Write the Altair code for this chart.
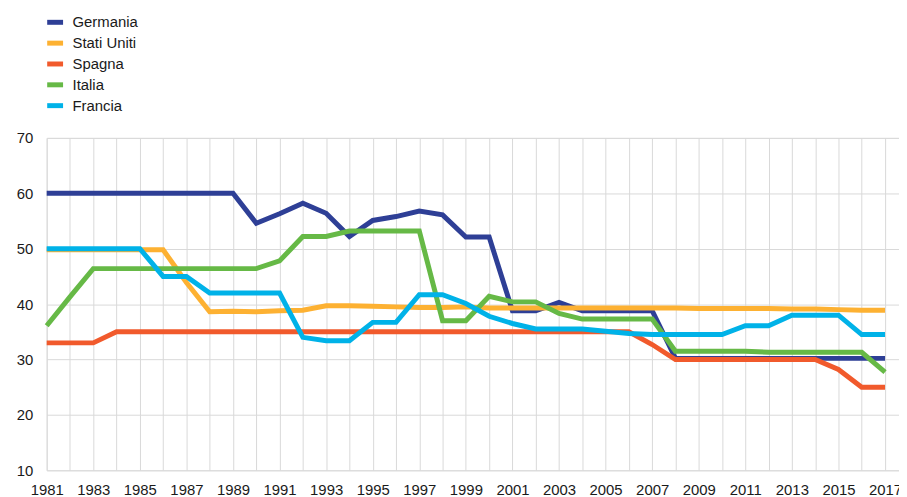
import altair as alt
import pandas as pd

years = list(range(1981, 2018))

germania = [60, 60, 60, 60, 60, 60, 60, 60, 60, 54.6, 56.3, 58.2, 56.4, 52.2, 55.1, 55.8, 56.8, 56.1,
            52.1, 52.1, 38.8, 38.8, 40.3, 38.8, 38.8, 38.8, 38.8, 30.2, 30.2, 30.2, 30.2, 30.2, 30.2,
            30.2, 30.2, 30.2, 30.2]
stati_uniti = [49.8, 49.8, 49.8, 49.8, 49.8, 49.8, 43.9, 38.6, 38.7, 38.6, 38.8, 38.9, 39.7, 39.7,
               39.6, 39.5, 39.4, 39.4, 39.5, 39.3, 39.3, 39.3, 39.3, 39.3, 39.3, 39.3, 39.3, 39.3,
               39.2, 39.2, 39.2, 39.2, 39.1, 39.1, 39.0, 38.9, 38.9]
spagna = [33, 33, 33, 35, 35, 35, 35, 35, 35, 35, 35, 35, 35, 35, 35, 35, 35, 35, 35, 35, 35, 35,
          35, 35, 35, 35, 32.7, 30, 30, 30, 30, 30, 30, 30, 28.2, 25, 25]
italia = [36.1, 41.3, 46.4, 46.4, 46.4, 46.4, 46.4, 46.4, 46.4, 46.4, 47.8, 52.2, 52.2, 53.2, 53.2,
          53.2, 53.2, 37.0, 37.0, 41.4, 40.4, 40.4, 38.3, 37.3, 37.3, 37.3, 37.3, 31.5, 31.5, 31.5,
          31.5, 31.3, 31.3, 31.3, 31.3, 31.3, 27.7]
francia = [50, 50, 50, 50, 50, 45, 45, 42, 42, 42, 42, 34, 33.4, 33.4, 36.7, 36.7, 41.7, 41.7, 40.1,
           37.8, 36.5, 35.5, 35.5, 35.5, 35.1, 34.7, 34.5, 34.5, 34.5, 34.5, 36.1, 36.1, 38.0, 38.0,
           38.0, 34.5, 34.5]

countries = ["Germania", "Stati Uniti", "Spagna", "Italia", "Francia"]
colors = ["#2E3F96", "#FDB132", "#F15A2C", "#66B946", "#00B2E8"]
series = [germania, stati_uniti, spagna, italia, francia]

rows = []
for i, (name, vals) in enumerate(zip(countries, series)):
    for y, v in zip(years, vals):
        rows.append({"anno": y, "valore": v, "paese": name, "ord": i})
df = pd.DataFrame(rows)

font = "Liberation Sans"

chart = alt.Chart(df).mark_line(strokeWidth=5, strokeCap="butt").encode(
    x=alt.X("anno:Q",
            scale=alt.Scale(domain=[1981, 2017.6], nice=False, zero=False),
            axis=alt.Axis(values=years, labelExpr="datum.value % 2 == 1 ? datum.label : ''",
                          format="d", title=None, grid=True, gridColor="#D9D9D9", domain=False,
                          ticks=False, labelPadding=12, labelFontSize=15, labelColor="#1a1a1a",
                          labelFont=font, labelFlush=False, labelOverlap=False)),
    y=alt.Y("valore:Q",
            scale=alt.Scale(domain=[10, 70], nice=False, zero=False),
            axis=alt.Axis(values=[10, 20, 30, 40, 50, 60, 70], title=None, grid=True,
                          gridColor="#D9D9D9", domain=False, ticks=False, labelPadding=14,
                          labelFontSize=15, labelColor="#1a1a1a", labelFont=font)),
    color=alt.Color("paese:N",
                    scale=alt.Scale(domain=countries, range=colors),
                    legend=alt.Legend(orient="none", legendX=-2, legendY=-127, title=None,
                                      direction="vertical", padding=0,
                                      symbolType="stroke",
                                      symbolSize=256, symbolStrokeWidth=5, labelFontSize=15,
                                      labelFont=font, labelColor="#1a1a1a", rowPadding=0,
                                      labelOffset=7)),
    order=alt.Order("ord:Q"),
).properties(
    width=859, height=335,
    autosize=alt.AutoSizeParams(type="none"),
    padding={"left": 39, "top": 129, "right": 0, "bottom": 25},
).configure_view(stroke=None).configure(background="white")

chart.save("out.html", embed_options={"renderer": "svg", "actions": False})
